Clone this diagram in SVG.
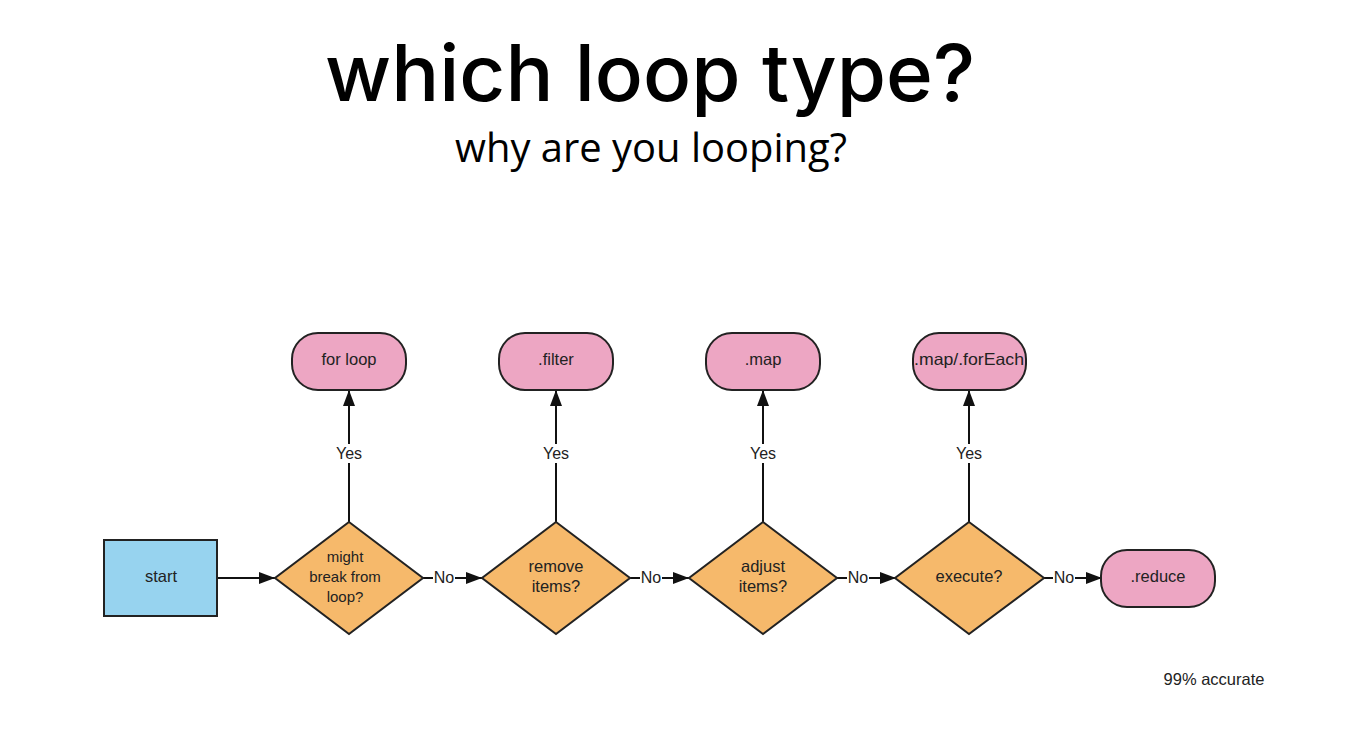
<svg xmlns="http://www.w3.org/2000/svg" width="1358" height="751" viewBox="0 0 1358 751">
<style>
.title{font-family:Inter,Lato,"Liberation Sans",sans-serif;font-weight:500;font-size:78px;fill:#000}
.sub{font-family:"Open Sans","Liberation Sans",sans-serif;font-size:40px;fill:#000}
.t{font-family:"Liberation Sans",Arial,sans-serif;font-size:16.5px;fill:#222;text-anchor:middle;dominant-baseline:central}
.t15{font-size:15px}
.lbl{font-family:"Liberation Sans",Arial,sans-serif;font-size:16px;fill:#222;text-anchor:middle;dominant-baseline:central}
.box{fill:#97d3ef;stroke:#222;stroke-width:2}
.dia{fill:#f6b96b;stroke:#222;stroke-width:2}
.pill{fill:#eda6c3;stroke:#222;stroke-width:2}
.ln{stroke:#111;stroke-width:2;fill:none}
.bg{fill:#fff}
</style>
<defs>
<marker id="ahh" markerWidth="16" markerHeight="12" refX="16" refY="6" orient="auto" markerUnits="userSpaceOnUse" viewBox="0 0 16 12">
<path d="M0,0 L16,6 L0,12 Z" fill="#111"/>
</marker>
</defs>
<rect width="1358" height="751" fill="#fff"/>
<text class="title" x="650" y="101" text-anchor="middle" textLength="650" lengthAdjust="spacingAndGlyphs">which loop type?</text>
<text class="sub" x="651" y="162" text-anchor="middle" textLength="392" lengthAdjust="spacingAndGlyphs">why are you looping?</text>

<g id="connectors">
<line class="ln" x1="217" y1="578" x2="275" y2="578" marker-end="url(#ahh)"/>
<line class="ln" x1="423" y1="578" x2="482" y2="578" marker-end="url(#ahh)"/>
<line class="ln" x1="630" y1="578" x2="689" y2="578" marker-end="url(#ahh)"/>
<line class="ln" x1="837" y1="578" x2="896" y2="578" marker-end="url(#ahh)"/>
<line class="ln" x1="1044" y1="578" x2="1102" y2="578" marker-end="url(#ahh)"/>
<line class="ln" x1="349" y1="522" x2="349" y2="390" marker-end="url(#ahh)"/>
<line class="ln" x1="556" y1="522" x2="556" y2="390" marker-end="url(#ahh)"/>
<line class="ln" x1="763" y1="522" x2="763" y2="390" marker-end="url(#ahh)"/>
<line class="ln" x1="969" y1="522" x2="969" y2="390" marker-end="url(#ahh)"/>
<rect class="bg" x="333" y="444" width="32" height="19"/>
<text class="lbl" x="349" y="453">Yes</text>
<rect class="bg" x="540" y="444" width="32" height="19"/>
<text class="lbl" x="556" y="453">Yes</text>
<rect class="bg" x="747" y="444" width="32" height="19"/>
<text class="lbl" x="763" y="453">Yes</text>
<rect class="bg" x="953" y="444" width="32" height="19"/>
<text class="lbl" x="969" y="453">Yes</text>
<rect class="bg" x="433" y="568" width="22" height="19"/>
<text class="lbl" x="444" y="577">No</text>
<rect class="bg" x="640" y="568" width="22" height="19"/>
<text class="lbl" x="651" y="577">No</text>
<rect class="bg" x="847" y="568" width="22" height="19"/>
<text class="lbl" x="858" y="577">No</text>
<rect class="bg" x="1053" y="568" width="22" height="19"/>
<text class="lbl" x="1064" y="577">No</text>
</g>

<g id="start">
<rect class="box" x="104" y="540" width="113" height="76"/>
<text class="t" x="161" y="576" font-size="17">start</text>
</g>

<g id="d1">
<polygon class="dia" points="349,522 423,578 349,634 275,578"/>
<text class="t t15" x="345" y="556">might</text>
<text class="t t15" x="345" y="576">break from</text>
<text class="t t15" x="345" y="596">loop?</text>
</g>
<g id="d2">
<polygon class="dia" points="556,522 630,578 556,634 482,578"/>
<text class="t" x="556" y="566">remove</text>
<text class="t" x="556" y="586">items?</text>
</g>
<g id="d3">
<polygon class="dia" points="763,522 837,578 763,634 689,578"/>
<text class="t" x="763" y="566">adjust</text>
<text class="t" x="763" y="586">items?</text>
</g>
<g id="d4">
<polygon class="dia" points="969,522 1044,578 969,634 895,578"/>
<text class="t" x="969" y="576">execute?</text>
</g>

<g id="forloop">
<rect class="pill" x="292" y="333" width="114" height="57" rx="26"/>
<text class="t" x="349" y="359">for loop</text>
</g>
<g id="filter">
<rect class="pill" x="499" y="333" width="114" height="57" rx="26"/>
<text class="t" x="556" y="359">.filter</text>
</g>
<g id="map">
<rect class="pill" x="706" y="333" width="114" height="57" rx="26"/>
<text class="t" x="763" y="359">.map</text>
</g>
<g id="mapforeach">
<rect class="pill" x="913" y="333" width="113" height="57" rx="26"/>
<text class="t" x="969" y="359" textLength="110" lengthAdjust="spacingAndGlyphs">.map/.forEach</text>
</g>
<g id="reduce">
<rect class="pill" x="1101" y="550" width="114" height="57" rx="26"/>
<text class="t" x="1158" y="576">.reduce</text>
</g>

<text x="1214" y="679" font-family="'Liberation Sans',Arial,sans-serif" font-size="16.5" fill="#222" text-anchor="middle" dominant-baseline="central">99% accurate</text>
</svg>
